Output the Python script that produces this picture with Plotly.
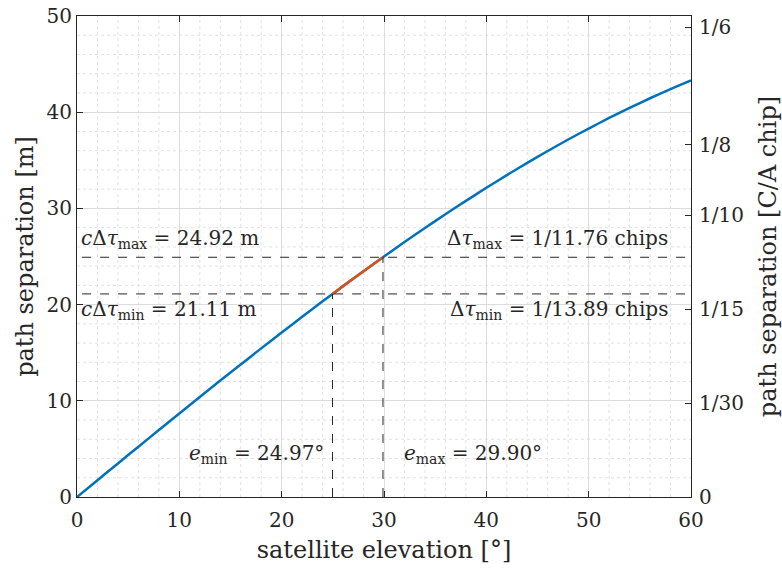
import plotly.graph_objects as go

# data
elev = [0, 2, 4, 6, 8, 10, 12, 14, 16, 18, 20, 22, 24, 24.97, 26, 28, 29.90, 30,
        32, 34, 36, 38, 40, 42, 44, 46, 48, 50, 52, 54, 56, 58, 60]
sep = [0.0, 1.75, 3.49, 5.23, 6.96, 8.68, 10.40, 12.10, 13.78, 15.45, 17.10, 18.73,
       20.34, 21.11, 21.92, 23.47, 24.92, 25.00, 26.50, 27.96, 29.39, 30.78, 32.14,
       33.46, 34.73, 35.97, 37.16, 38.30, 39.40, 40.45, 41.45, 42.40, 43.30]
seg_elev = [24.97, 26, 28, 29.90]
seg_sep = [21.11, 21.92, 23.47, 24.92]
e_min, e_max = 24.97, 29.90
d_min, d_max = 21.11, 24.92
chip_m = 293.05
chip_fracs = [0, 30, 15, 10, 8, 6]
chip_labels = ["0", "1/30", "1/15", "1/10", "1/8", "1/6"]
x_ticks = [0, 10, 20, 30, 40, 50, 60]
y_ticks = [0, 10, 20, 30, 40, 50]

FONT = "DejaVu Serif, Liberation Serif, serif"
FS = 20
BLUE = "#0072BD"
ORANGE = "#D95319"
AX = "#262626"

fig = go.Figure()

# minor grid (dotted)
for xv in range(2, 60, 2):
    if xv % 10:
        fig.add_shape(type="line", x0=xv, x1=xv, y0=0, y1=50, xref="x", yref="y",
                      line=dict(color="#e2e2e2", width=1, dash="dot"), layer="below")
for yv in range(2, 50, 2):
    if yv % 10:
        fig.add_shape(type="line", x0=0, x1=60, y0=yv, y1=yv, xref="x", yref="y",
                      line=dict(color="#e2e2e2", width=1, dash="dot"), layer="below")

fig.add_trace(go.Scatter(x=elev, y=sep, mode="lines",
                         line=dict(color=BLUE, width=2.5, shape="spline", smoothing=0.6),
                         showlegend=False, hoverinfo="skip"))
fig.add_trace(go.Scatter(x=seg_elev, y=seg_sep, mode="lines",
                         line=dict(color=ORANGE, width=2.5, shape="spline", smoothing=0.6),
                         showlegend=False, hoverinfo="skip"))
# invisible trace for right axis
fig.add_trace(go.Scatter(x=[0], y=[0], yaxis="y2", mode="markers", marker=dict(opacity=0),
                         showlegend=False, hoverinfo="skip"))

dash = dict(color=AX, width=1, dash="dash")
fig.add_shape(type="line", x0=0.5, x1=60, y0=d_max, y1=d_max, xref="x", yref="y", line=dash)
fig.add_shape(type="line", x0=0.5, x1=60, y0=d_min, y1=d_min, xref="x", yref="y", line=dash)
fig.add_shape(type="line", x0=e_min, x1=e_min, y0=0, y1=d_min, xref="x", yref="y", line=dash)
fig.add_shape(type="line", x0=e_max, x1=e_max, y0=0, y1=d_max, xref="x", yref="y", line=dash)

tf = dict(family=FONT, size=FS, color=AX)
fig.add_annotation(x=0.2, y=d_max + 0.3, xref="x", yref="y", xanchor="left", yanchor="bottom",
                   text="<i>c</i>Δ<i>τ</i><sub>max</sub> = 24.92 m", showarrow=False, font=tf)
fig.add_annotation(x=0.2, y=d_min - 0.1, xref="x", yref="y", xanchor="left", yanchor="top",
                   text="<i>c</i>Δ<i>τ</i><sub>min</sub> = 21.11 m", showarrow=False, font=tf)
fig.add_annotation(x=57.9, y=d_max + 0.3, xref="x", yref="y", xanchor="right", yanchor="bottom",
                   text="Δ<i>τ</i><sub>max</sub> = 1/11.76 chips", showarrow=False, font=tf)
fig.add_annotation(x=57.9, y=d_min - 0.1, xref="x", yref="y", xanchor="right", yanchor="top",
                   text="Δ<i>τ</i><sub>min</sub> = 1/13.89 chips", showarrow=False, font=tf)
fig.add_annotation(x=24.3, y=4.5, xref="x", yref="y", xanchor="right", yanchor="middle",
                   text="<i>e</i><sub>min</sub> = 24.97°", showarrow=False, font=tf)
fig.add_annotation(x=31.8, y=4.5, xref="x", yref="y", xanchor="left", yanchor="middle",
                   text="<i>e</i><sub>max</sub> = 29.90°", showarrow=False, font=tf)

fig.update_layout(
    width=782, height=575,
    margin=dict(l=77, r=91, t=16, b=78, autoexpand=False),
    paper_bgcolor="white", plot_bgcolor="white",
    font=dict(family=FONT, size=FS, color=AX),
    xaxis=dict(range=[0, 60], tickvals=x_ticks, ticks="inside", ticklen=6, tickcolor=AX,
               showline=True, linecolor=AX, linewidth=1, mirror="ticks", automargin=False,
               showgrid=True, gridcolor="#dcdcdc", gridwidth=1, zeroline=False,
               ticklabelstandoff=5,
               title=dict(text="satellite elevation [°]", standoff=10),
               tickfont=dict(family=FONT, size=FS, color=AX)),
    yaxis=dict(range=[0, 50], tickvals=y_ticks, ticks="inside", ticklen=6, tickcolor=AX,
               showline=True, linecolor=AX, linewidth=1, mirror=False, automargin=False,
               showgrid=True, gridcolor="#dcdcdc", gridwidth=1, zeroline=False,
               title=dict(text="path separation [m]", standoff=6),
               tickfont=dict(family=FONT, size=FS, color=AX)),
    yaxis2=dict(range=[0, 50], overlaying="y", side="right", automargin=False,
                tickvals=[0 if f == 0 else chip_m / f for f in chip_fracs], ticktext=chip_labels,
                ticks="inside", ticklen=6, tickcolor=AX, ticklabelstandoff=3,
                showline=True, linecolor=AX, linewidth=1, showgrid=False, zeroline=False,
                title=dict(text="path separation [C/A chip]", standoff=16),
                tickfont=dict(family=FONT, size=FS, color=AX)),
)

fig.write_html("out.html", config={"displayModeBar": False},
               post_script="document.body.style.margin='0';")
